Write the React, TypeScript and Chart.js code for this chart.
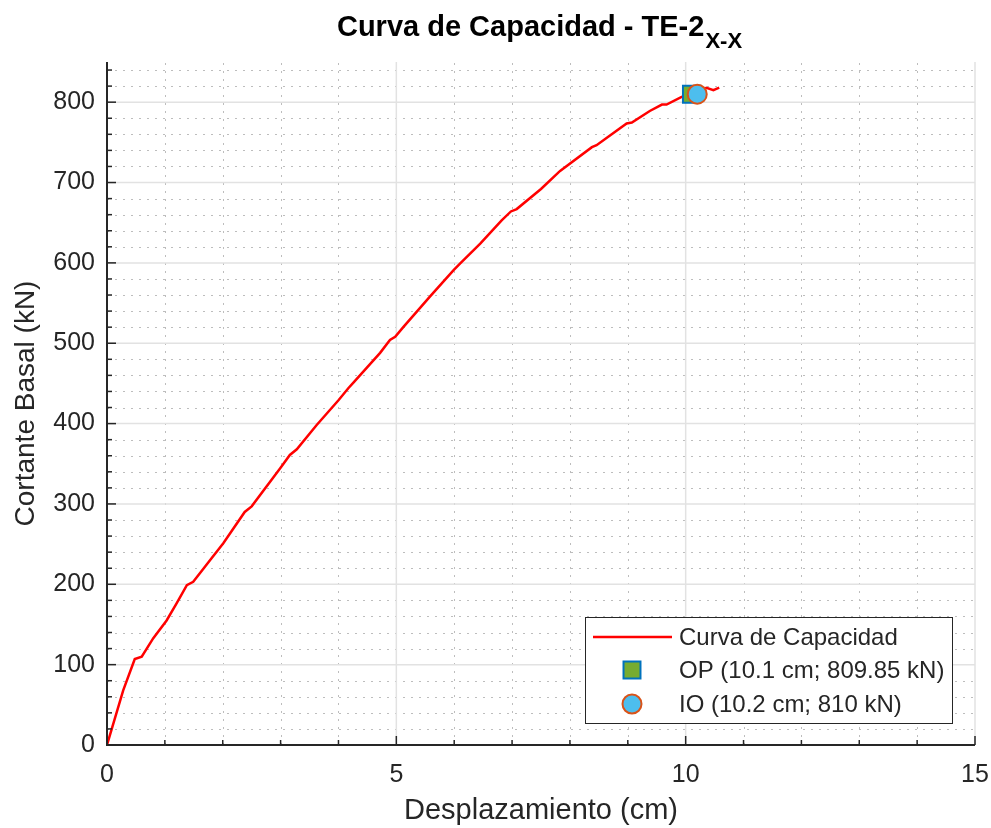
import React, { useEffect, useRef } from 'react';
import { Chart, registerables } from 'chart.js';

Chart.register(...registerables);

// ---- Data ----
const dispCm = [
  0, 0.28, 0.48, 0.6, 0.8, 1.03, 1.2, 1.38, 1.49, 1.78, 2.01, 2.38, 2.5, 2.99, 3.16,
  3.28, 3.62, 4.0, 4.17, 4.27, 4.72, 4.89, 4.98, 5.12, 5.58, 5.99, 6.1, 6.45, 6.82,
  6.98, 7.08, 7.5, 7.83, 8.38, 8.46, 8.98, 9.07, 9.38, 9.59, 9.67, 9.93, 10.1,
  10.22, 10.36, 10.48, 10.58,
];
const shearKN = [
  0, 68, 107, 110, 133, 155, 176, 199, 203, 230, 251, 290, 297, 344, 361,
  368, 398, 429, 444, 452, 488, 504, 508, 520, 558, 591, 599, 624, 653,
  664, 667, 692, 714.5, 744, 746.5, 773.5, 774.7, 789, 797, 797, 806.6, 810,
  814, 818, 815, 818,
];
const opDisp = [10.1];
const opShear = [809.85];
const ioDisp = [10.2];
const ioShear = [810];

const xMin = 0;
const xMax = 15;
const yMin = 0;
const yMax = 850;
const xMajorStep = 5;
const xMinorStep = 1;
const yMajorStep = 100;
const yMinorStep = 20;

const titleMain = 'Curva de Capacidad - TE-2';
const titleSub = 'X-X';
const xTitle = 'Desplazamiento (cm)';
const yTitle = 'Cortante Basal (kN)';
const curveLabel = 'Curva de Capacidad';
const opLabel = 'OP (10.1 cm; 809.85 kN)';
const ioLabel = 'IO (10.2 cm; 810 kN)';

const FONT = '"Liberation Sans", Arial, Helvetica, sans-serif';
const TEXT = '#262626';

const zip = (xs: number[], ys: number[]) => xs.map((x, i) => ({ x, y: ys[i] }));

const gridPlugin = {
  id: 'matlabGrid',
  beforeDatasetsDraw(chart: any) {
    const { ctx, chartArea, scales } = chart;
    const { left, right, top, bottom } = chartArea;
    const xs = scales.x;
    const ys = scales.y;
    ctx.save();
    // minor dotted
    ctx.strokeStyle = '#bdbdbd';
    ctx.lineWidth = 1;
    ctx.setLineDash([2, 6]);
    for (let v = xMin + xMinorStep; v < xMax; v += xMinorStep) {
      if (Math.abs(v % xMajorStep) < 1e-9) continue;
      const px = Math.round(xs.getPixelForValue(v)) + 0.5;
      ctx.beginPath();
      ctx.moveTo(px, bottom);
      ctx.lineTo(px, top);
      ctx.stroke();
    }
    for (let v = yMin + yMinorStep; v <= yMax; v += yMinorStep) {
      if (Math.abs(v % yMajorStep) < 1e-9) continue;
      const py = Math.round(ys.getPixelForValue(v)) + 0.5;
      ctx.beginPath();
      ctx.moveTo(left, py);
      ctx.lineTo(right, py);
      ctx.stroke();
    }
    // major solid
    ctx.setLineDash([]);
    ctx.strokeStyle = '#e2e2e2';
    ctx.lineWidth = 1.5;
    for (let v = xMin + xMajorStep; v <= xMax; v += xMajorStep) {
      const px = xs.getPixelForValue(v);
      ctx.beginPath();
      ctx.moveTo(px, bottom);
      ctx.lineTo(px, top);
      ctx.stroke();
    }
    for (let v = yMin + yMajorStep; v < yMax; v += yMajorStep) {
      const py = ys.getPixelForValue(v);
      ctx.beginPath();
      ctx.moveTo(left, py);
      ctx.lineTo(right, py);
      ctx.stroke();
    }
    ctx.restore();
  },
  afterDatasetsDraw(chart: any) {
    const { ctx, chartArea, scales } = chart;
    const { left, right, top, bottom } = chartArea;
    const xs = scales.x;
    const ys = scales.y;
    ctx.save();
    ctx.strokeStyle = TEXT;
    ctx.lineWidth = 2;
    ctx.beginPath();
    ctx.moveTo(left, top);
    ctx.lineTo(left, bottom);
    ctx.lineTo(right, bottom);
    ctx.stroke();
    // ticks (inward)
    ctx.lineWidth = 1.5;
    for (let v = xMin; v <= xMax + 1e-9; v += xMinorStep) {
      const major = Math.abs(v % xMajorStep) < 1e-9;
      const px = xs.getPixelForValue(v);
      ctx.beginPath();
      ctx.moveTo(px, bottom);
      ctx.lineTo(px, bottom - (major ? 9 : 5));
      ctx.stroke();
    }
    for (let v = yMin; v <= yMax + 1e-9; v += yMinorStep) {
      const major = Math.abs(v % yMajorStep) < 1e-9;
      const py = ys.getPixelForValue(v);
      ctx.beginPath();
      ctx.moveTo(left, py);
      ctx.lineTo(left + (major ? 9 : 5), py);
      ctx.stroke();
    }
    ctx.restore();
  },
};

const titlePlugin = {
  id: 'subTitle',
  afterDraw(chart: any) {
    const { ctx } = chart;
    ctx.save();
    ctx.fillStyle = '#000000';
    ctx.textBaseline = 'alphabetic';
    ctx.textAlign = 'left';
    const mainFont = `bold 29px ${FONT}`;
    const subFont = `bold 22px ${FONT}`;
    ctx.font = mainFont;
    const w1 = ctx.measureText(titleMain).width;
    ctx.font = subFont;
    const w2 = ctx.measureText(titleSub).width;
    const cx = 539;
    const start = cx - (w1 + w2) / 2;
    ctx.font = mainFont;
    ctx.fillText(titleMain, start, 36);
    ctx.font = subFont;
    ctx.fillText(titleSub, start + w1 + 1, 48);
    ctx.restore();
  },
};

const legendPlugin = {
  id: 'boxLegend',
  afterDraw(chart: any) {
    const { ctx } = chart;
    const ds = chart.data.datasets;
    const bx = 585;
    const by = 617;
    const bw = 367;
    const bh = 106;
    ctx.save();
    ctx.fillStyle = '#ffffff';
    ctx.fillRect(bx, by, bw, bh);
    ctx.strokeStyle = TEXT;
    ctx.lineWidth = 1;
    ctx.strokeRect(bx + 0.5, by + 0.5, bw, bh);
    const rows = [637, 670, 704];
    const symX = 632;
    const textX = 679;
    ctx.font = `24px ${FONT}`;
    ctx.fillStyle = TEXT;
    ctx.textBaseline = 'middle';
    ctx.textAlign = 'left';
    // row 1: line
    ctx.strokeStyle = ds[0].borderColor;
    ctx.lineWidth = ds[0].borderWidth;
    ctx.beginPath();
    ctx.moveTo(593, rows[0]);
    ctx.lineTo(672, rows[0]);
    ctx.stroke();
    ctx.fillText(ds[0].label, textX, rows[0] + 1);
    // row 2: square
    const r2 = ds[1].pointRadius * Math.SQRT1_2;
    ctx.fillStyle = ds[1].pointBackgroundColor;
    ctx.strokeStyle = ds[1].pointBorderColor;
    ctx.lineWidth = ds[1].pointBorderWidth;
    ctx.beginPath();
    ctx.rect(symX - r2, rows[1] - r2, 2 * r2, 2 * r2);
    ctx.fill();
    ctx.stroke();
    ctx.fillStyle = TEXT;
    ctx.fillText(ds[1].label, textX, rows[1] + 1);
    // row 3: circle
    ctx.fillStyle = ds[2].pointBackgroundColor;
    ctx.strokeStyle = ds[2].pointBorderColor;
    ctx.lineWidth = ds[2].pointBorderWidth;
    ctx.beginPath();
    ctx.arc(symX, rows[2], ds[2].pointRadius, 0, Math.PI * 2);
    ctx.fill();
    ctx.stroke();
    ctx.fillStyle = TEXT;
    ctx.fillText(ds[2].label, textX, rows[2] + 1);
    ctx.restore();
  },
};

export default function App() {
  const ref = useRef<HTMLCanvasElement | null>(null);

  useEffect(() => {
    document.body.style.margin = '0';
    const canvas = ref.current;
    if (!canvas) return;
    const chart = new Chart(canvas, {
      type: 'scatter',
      data: {
        datasets: [
          {
            label: curveLabel,
            data: zip(dispCm, shearKN),
            showLine: true,
            borderColor: '#ff0000',
            backgroundColor: '#ff0000',
            borderWidth: 2.5,
            pointRadius: 0,
            tension: 0,
            order: 3,
          } as any,
          {
            label: opLabel,
            data: zip(opDisp, opShear),
            showLine: false,
            pointStyle: 'rect',
            pointRadius: 12,
            pointBackgroundColor: '#77AC30',
            pointBorderColor: '#0072BD',
            pointBorderWidth: 2,
            order: 2,
          },
          {
            label: ioLabel,
            data: zip(ioDisp, ioShear),
            showLine: false,
            pointStyle: 'circle',
            pointRadius: 9.5,
            pointBackgroundColor: '#4DBEEE',
            pointBorderColor: '#D95319',
            pointBorderWidth: 2,
            order: 1,
          },
        ],
      },
      options: {
        responsive: false,
        animation: false,
        devicePixelRatio: 1,
        layout: { padding: { left: 0, right: 16, top: 62, bottom: 0 } },
        plugins: {
          legend: { display: false },
          tooltip: { enabled: false },
          title: { display: false },
        },
        scales: {
          x: {
            type: 'linear',
            min: xMin,
            max: xMax,
            grid: { display: false, drawTicks: false },
            border: { display: false },
            ticks: {
              stepSize: xMajorStep,
              color: TEXT,
              font: { family: FONT, size: 25 },
              padding: 15,
              maxRotation: 0,
            },
            title: {
              display: true,
              text: xTitle,
              color: TEXT,
              font: { family: FONT, size: 29 },
              padding: { top: 0, bottom: 0 },
            },
            afterFit: (s: any) => {
              s.height = 83;
              s.paddingLeft = 0;
              s.paddingRight = 0;
            },
          },
          y: {
            type: 'linear',
            min: yMin,
            max: yMax,
            grid: { display: false, drawTicks: false },
            border: { display: false },
            ticks: {
              stepSize: yMajorStep,
              color: TEXT,
              font: { family: FONT, size: 25 },
              padding: 12,
              callback: (v: any) => (Number(v) % yMajorStep === 0 ? String(v) : ''),
            },
            title: {
              display: true,
              text: yTitle,
              color: TEXT,
              font: { family: FONT, size: 28 },
              padding: { top: 9, bottom: 0 },
            },
            afterFit: (s: any) => {
              s.width = 107;
              s.paddingTop = 0;
              s.paddingBottom = 0;
            },
          },
        },
      },
      plugins: [gridPlugin, titlePlugin, legendPlugin],
    });
    return () => chart.destroy();
  }, []);

  return <canvas ref={ref} width={991} height={828} style={{ display: 'block' }} />;
}
